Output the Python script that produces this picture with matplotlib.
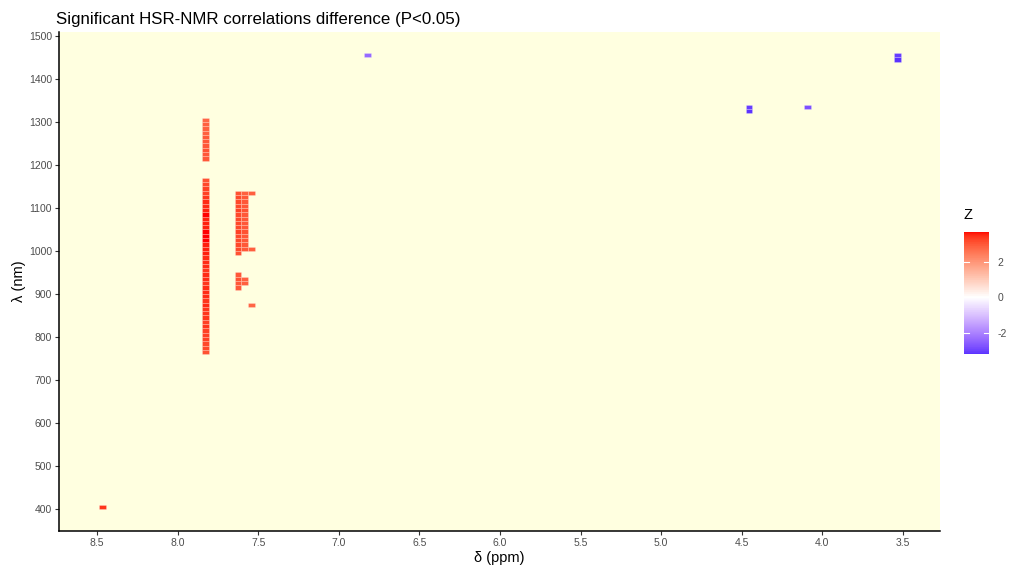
import numpy as np
import matplotlib
matplotlib.use("Agg")
import matplotlib.pyplot as plt
from matplotlib.colors import ListedColormap, Normalize
from matplotlib.cm import ScalarMappable

plt.rcParams['font.family'] = ['Liberation Sans', 'DejaVu Sans']
plt.rcParams['axes.unicode_minus'] = False

# δ (ppm) / λ (nm) / Z for each significant cell
col1_lo_y = [765, 775, 785, 795, 805, 815, 825, 835, 845, 855, 865, 875, 885, 895,
             905, 915, 925, 935, 945, 955, 965, 975, 985, 995, 1005, 1015, 1025,
             1035, 1045, 1055, 1065, 1075, 1085, 1095, 1105, 1115, 1125, 1135,
             1145, 1155, 1165]
col1_lo_z = [3.1, 3.2, 3.2, 3.3, 3.3, 3.3, 3.4, 3.3, 3.4, 3.4, 3.4, 3.5, 3.4, 3.5,
             3.5, 3.5, 3.4, 3.5, 3.5, 3.4, 3.5, 3.5, 3.5, 3.6, 3.6, 3.6, 3.7,
             3.72, 3.7, 3.6, 3.6, 3.6, 3.7, 3.6, 3.5, 3.5, 3.4, 3.3,
             3.3, 3.2, 3.1]
col1_hi_y = [1215, 1225, 1235, 1245, 1255, 1265, 1275, 1285, 1295, 1305]
col1_hi_z = [3.0, 3.0, 3.1, 3.0, 3.0, 3.0, 2.9, 2.9, 2.9, 2.8]

col2_y = [915, 925, 935, 945, 995, 1005, 1015, 1025, 1035, 1045, 1055, 1065,
          1075, 1085, 1095, 1105, 1115, 1125, 1135]
col2_z = [3.0, 3.0, 3.1, 3.0, 3.1, 3.2, 3.2, 3.2, 3.2, 3.3, 3.2, 3.2,
          3.2, 3.2, 3.3, 3.2, 3.2, 3.2, 3.1]
col3_y = [925, 935, 1005, 1015, 1025, 1035, 1045, 1055, 1065, 1075, 1085,
          1095, 1105, 1115, 1125, 1135]
col3_z = [2.9, 2.9, 3.0, 3.0, 3.0, 3.0, 3.1, 3.0, 3.0, 3.0, 3.0,
          3.1, 3.0, 3.0, 3.0, 2.9]
col4_y = [875, 1005, 1135]
col4_z = [2.8, 2.9, 2.9]

other_x = [8.466, 6.821, 4.455, 4.455, 4.093, 3.533, 3.533]
other_y = [405, 1455, 1325, 1335, 1335, 1445, 1455]
other_z = [3.4, -2.4, -3.2, -3.1, -2.8, -3.23, -3.1]

col_x = [7.827, 7.625, 7.584, 7.543]

xs = ([col_x[0]] * (len(col1_lo_y) + len(col1_hi_y)) + [col_x[1]] * len(col2_y)
      + [col_x[2]] * len(col3_y) + [col_x[3]] * len(col4_y) + other_x)
ys = col1_lo_y + col1_hi_y + col2_y + col3_y + col4_y + other_y
zs = col1_lo_z + col1_hi_z + col2_z + col3_z + col4_z + other_z
xs, ys, zs = np.array(xs), np.array(ys), np.array(zs)


# ggplot-style gradient2 (blue - white - red), interpolated in CIELAB
def lab_to_rgb(lab):
    L, a, b = lab[:, 0], lab[:, 1], lab[:, 2]
    fy = (L + 16) / 116
    fx = fy + a / 500
    fz = fy - b / 200

    def finv(t):
        return np.where(t > 0.206893, t ** 3, (t - 16 / 116) / 7.787)
    X = 0.95047 * finv(fx)
    Y = finv(fy)
    Z = 1.08883 * finv(fz)
    M = np.array([[3.2406, -1.5372, -0.4986],
                  [-0.9689, 1.8758, 0.0415],
                  [0.0557, -0.2040, 1.0570]])
    rgb = np.clip(np.stack([X, Y, Z], axis=1) @ M.T, 0, None)
    rgb = np.where(rgb > 0.0031308, 1.055 * rgb ** (1 / 2.4) - 0.055, 12.92 * rgb)
    return np.clip(rgb, 0, 1)


lab_blue = np.array([32.30, 79.19, -107.86])
lab_white = np.array([100.0, 0.0, 0.0])
lab_red = np.array([53.24, 80.09, 67.20])
t = np.linspace(0, 1, 128)[:, None]
lab = np.vstack([lab_blue + (lab_white - lab_blue) * t,
                 lab_white + (lab_red - lab_white) * t[1:]])
cmap = ListedColormap(lab_to_rgb(lab))
zmax = np.abs(zs).max()
norm = Normalize(-zmax, zmax)

fig = plt.figure(figsize=(10.17, 5.7), dpi=100)
ax = fig.add_axes([59 / 1017, 39 / 570, 881 / 1017, 499 / 570])
ax.set_facecolor('#FFFFE0')

ax.bar(xs, 10, width=0.041, bottom=ys - 5, color=cmap(norm(zs)),
       edgecolor=(1, 1, 1, 0.35), linewidth=0.4, align='center')

ax.set_xlim(8.736, 3.27)
ax.set_ylim(349, 1509)
ax.set_xticks(np.arange(8.5, 3.4, -0.5))
ax.set_xticklabels([f'{v:.1f}' for v in np.arange(8.5, 3.4, -0.5)])
ax.set_yticks(np.arange(400, 1501, 100))

for s in ['top', 'right']:
    ax.spines[s].set_visible(False)
for s in ['left', 'bottom']:
    ax.spines[s].set_linewidth(1.1)
    ax.spines[s].set_color('black')
ax.tick_params(axis='both', length=3, width=0.8, color='#333333',
               labelsize=7.5, labelcolor='#4D4D4D', pad=2)

ax.set_xlabel('δ (ppm)', fontsize=10.5, labelpad=2)
ax.set_ylabel('λ (nm)', fontsize=10.5, labelpad=2)
ax.set_title('Significant HSR-NMR correlations difference (P<0.05)',
             fontsize=12.2, loc='left', pad=6, x=-0.003)

# colour bar
cax = fig.add_axes([964 / 1017, (570 - 354.3) / 570, 25 / 1017, 122.6 / 570])
sm = ScalarMappable(norm=norm, cmap=cmap)
cb = fig.colorbar(sm, cax=cax, boundaries=np.linspace(zs.min(), zs.max(), 300))
cb.outline.set_visible(False)
cb.set_ticks([-2, 0, 2])
cb.ax.tick_params(length=0, labelsize=7.5, labelcolor='#4D4D4D', pad=6)
for v in [-2, 0, 2]:
    cax.plot([0, 0.2], [v, v], color='white', lw=0.8, transform=cax.get_yaxis_transform())
    cax.plot([0.8, 1], [v, v], color='white', lw=0.8, transform=cax.get_yaxis_transform())
fig.text(964 / 1017, 1 - 215 / 570, 'Z', fontsize=10.5, va='center', ha='left')

fig.savefig('out.png', dpi=100)
